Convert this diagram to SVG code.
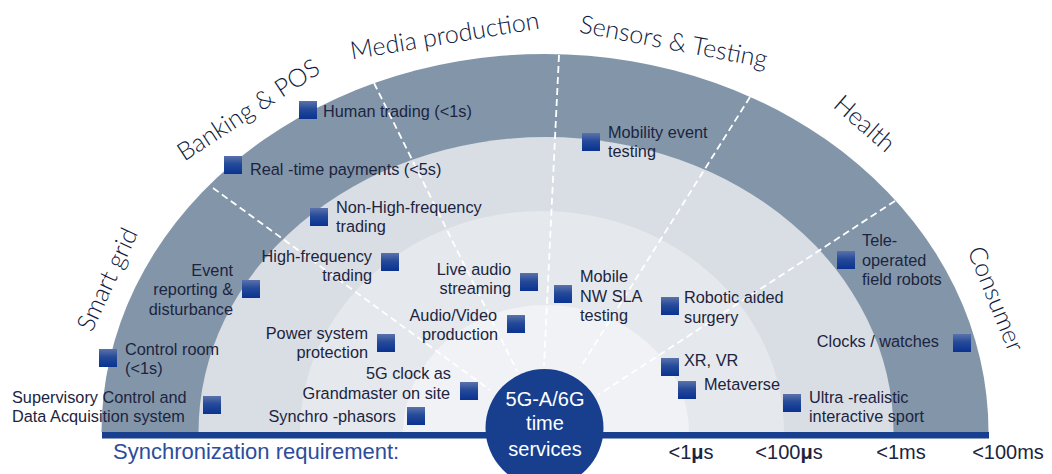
<svg xmlns="http://www.w3.org/2000/svg" width="1052" height="474" viewBox="0 0 1052 474">
  <style>
    text { font-family: "Liberation Sans", Arial, sans-serif; }
    .cat { font-family: Lato, "Open Sans", sans-serif; font-size: 25px; font-weight: 300; fill: #0f1b3d; text-anchor: middle; }
    .lbl { font-size: 16.3px; fill: #1c2440; }
    .r { text-anchor: end; }
    .sq { fill: url(#sqGrad); }
    .div { stroke: #ffffff; stroke-width: 1.8; stroke-dasharray: 7 4; fill: none; }
    .req { font-size: 20px; fill: #1c2440; text-anchor: middle; }
    .core { font-size: 20px; fill: #ffffff; text-anchor: middle; }
  </style>
  <defs>
    <linearGradient id="sqGrad" x1="0" y1="0" x2="0" y2="1">
      <stop offset="0" stop-color="#5a72ab"/>
      <stop offset="0.45" stop-color="#254a9a"/>
      <stop offset="1" stop-color="#0a3290"/>
    </linearGradient>
  </defs>

  <rect width="1052" height="474" fill="#ffffff"/>

  <!-- synchronization rings, outermost first -->
  <g id="rings">
    <path d="M101.5 432 A443.5 378 0 0 1 988.5 432 Z" fill="#8396a9"/>
    <path d="M198.5 432 A347.5 295 0 0 1 893.5 432 Z" fill="#d9dee4"/>
    <path d="M300 432 A242 221 0 0 1 784 432 Z" fill="#e5e8ec"/>
    <path d="M403 432 A143 127 0 0 1 689 432 Z" fill="#f0f2f5"/>
  </g>

  <!-- sector dividers -->
  <g id="connectors">
    <line class="div" x1="213" y1="188" x2="490" y2="390"/>
    <line class="div" x1="374" y1="83" x2="517" y2="371"/>
    <line class="div" x1="559" y1="55" x2="544" y2="366"/>
    <line class="div" x1="750" y1="97" x2="580" y2="368"/>
    <line class="div" x1="895" y1="201" x2="598" y2="395"/>
  </g>

  <!-- baseline bar -->
  <rect id="bar" x="102" y="432" width="887" height="6.5" fill="#173f8e"/>

  <!-- sector titles -->
  <g id="categories">
    <text class="cat" transform="translate(115 283) rotate(-65)">Smart grid</text>
    <text class="cat" transform="translate(253 117) rotate(-33)">Banking &amp; POS</text>
    <text class="cat" transform="translate(446 44) rotate(-9.4)">Media production</text>
    <text class="cat" transform="translate(672 50) rotate(10.8)" font-size="25.5">Sensors &amp; Testing</text>
    <text class="cat" transform="translate(859 130) rotate(41)">Health</text>
    <text class="cat" transform="translate(988 302) rotate(68)">Consumer</text>
  </g>

  <!-- use cases -->
  <g id="human-trading">
    <rect class="sq" x="299" y="101" width="18" height="18"/>
    <text class="lbl" x="323" y="117">Human trading (&lt;1s)</text>
  </g>
  <g id="realtime-payments">
    <rect class="sq" x="224" y="156" width="18" height="18"/>
    <text class="lbl" x="250" y="175">Real -time payments (&lt;5s)</text>
  </g>
  <g id="non-hf-trading">
    <rect class="sq" x="310" y="208" width="18" height="18"/>
    <text class="lbl" x="336" y="213">Non-High-frequency</text>
    <text class="lbl" x="336" y="232">trading</text>
  </g>
  <g id="mobility-event">
    <rect class="sq" x="582" y="133" width="18" height="18"/>
    <text class="lbl" x="608" y="138">Mobility event</text>
    <text class="lbl" x="608" y="157">testing</text>
  </g>
  <g id="event-reporting">
    <rect class="sq" x="242" y="280" width="18" height="18"/>
    <text class="lbl r" x="233" y="276">Event</text>
    <text class="lbl r" x="233" y="295">reporting &amp;</text>
    <text class="lbl r" x="233" y="315">disturbance</text>
  </g>
  <g id="hf-trading">
    <rect class="sq" x="381" y="253" width="18" height="18"/>
    <text class="lbl r" x="372" y="262">High-frequency</text>
    <text class="lbl r" x="372" y="281">trading</text>
  </g>
  <g id="control-room">
    <rect class="sq" x="99" y="349" width="18" height="18"/>
    <text class="lbl" x="125" y="355">Control room</text>
    <text class="lbl" x="125" y="374">(&lt;1s)</text>
  </g>
  <g id="scada">
    <rect class="sq" x="203" y="396" width="18" height="18"/>
    <text class="lbl" x="12" y="403">Supervisory Control and</text>
    <text class="lbl" x="12" y="422">Data Acquisition system</text>
  </g>
  <g id="power-protection">
    <rect class="sq" x="377" y="334" width="18" height="18"/>
    <text class="lbl r" x="368" y="339">Power system</text>
    <text class="lbl r" x="368" y="358">protection</text>
  </g>
  <g id="grandmaster">
    <rect class="sq" x="460" y="382" width="18" height="18"/>
    <text class="lbl r" x="451" y="379">5G clock as</text>
    <text class="lbl r" x="450" y="399">Grandmaster on site</text>
  </g>
  <g id="synchrophasors">
    <rect class="sq" x="407" y="407" width="18" height="18"/>
    <text class="lbl r" x="396" y="422">Synchro -phasors</text>
  </g>
  <g id="live-audio">
    <rect class="sq" x="520" y="273" width="18" height="18"/>
    <text class="lbl r" x="511" y="275">Live audio</text>
    <text class="lbl r" x="511" y="294">streaming</text>
  </g>
  <g id="av-production">
    <rect class="sq" x="507" y="315" width="18" height="18"/>
    <text class="lbl r" x="497" y="321">Audio/Video</text>
    <text class="lbl r" x="498" y="340">production</text>
  </g>
  <g id="mobile-sla">
    <rect class="sq" x="554" y="285" width="18" height="18"/>
    <text class="lbl" x="580" y="282">Mobile</text>
    <text class="lbl" x="580" y="302">NW SLA</text>
    <text class="lbl" x="580" y="321">testing</text>
  </g>
  <g id="robotic-surgery">
    <rect class="sq" x="661" y="297" width="18" height="18"/>
    <text class="lbl" x="684" y="303">Robotic aided</text>
    <text class="lbl" x="684" y="323">surgery</text>
  </g>
  <g id="xr-vr">
    <rect class="sq" x="661" y="358" width="18" height="18"/>
    <text class="lbl" x="684" y="366">XR, VR</text>
  </g>
  <g id="metaverse">
    <rect class="sq" x="678" y="381" width="18" height="18"/>
    <text class="lbl" x="704" y="390">Metaverse</text>
  </g>
  <g id="interactive-sport">
    <rect class="sq" x="783" y="394" width="18" height="18"/>
    <text class="lbl" x="809" y="403">Ultra -realistic</text>
    <text class="lbl" x="809" y="422">interactive sport</text>
  </g>
  <g id="field-robots">
    <rect class="sq" x="837" y="251" width="18" height="18"/>
    <text class="lbl" x="862" y="246">Tele-</text>
    <text class="lbl" x="862" y="266">operated</text>
    <text class="lbl" x="862" y="285">field robots</text>
  </g>
  <g id="clocks-watches">
    <rect class="sq" x="953" y="334" width="18" height="18"/>
    <text class="lbl r" x="939" y="347">Clocks / watches</text>
  </g>

  <!-- central hub -->
  <g id="hub">
    <circle cx="544.5" cy="428" r="59" fill="#173f8e"/>
    <text class="core" x="545" y="406">5G-A/6G</text>
    <text class="core" x="545" y="430">time</text>
    <text class="core" x="545" y="456">services</text>
  </g>

  <!-- requirement scale -->
  <g id="scale">
    <text x="113" y="459" font-size="22" fill="#2d4c9c">Synchronization requirement:</text>
    <text class="req" x="691" y="459">&lt;1<tspan font-weight="700">μ</tspan>s</text>
    <text class="req" x="789" y="459">&lt;100<tspan font-weight="700">μ</tspan>s</text>
    <text class="req" x="901" y="459">&lt;1ms</text>
    <text class="req" x="1008" y="459">&lt;100ms</text>
  </g>
</svg>
